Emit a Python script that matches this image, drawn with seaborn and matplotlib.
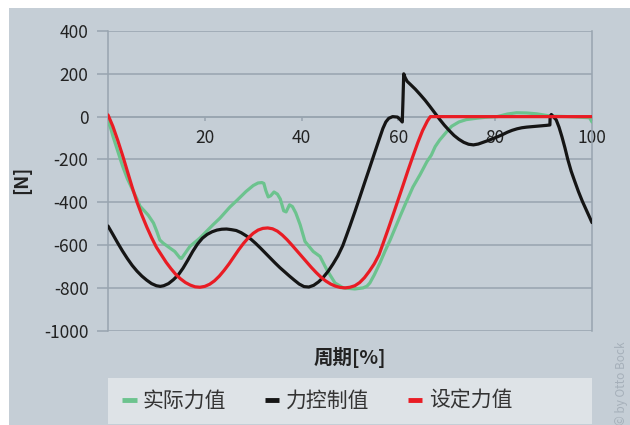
import matplotlib
matplotlib.use("Agg")
import matplotlib.pyplot as plt
from matplotlib.patches import Rectangle
import seaborn as sns
import pandas as pd

# Cycle position [%] and force [N] for each series
actual_x = [0, 0.5, 1, 2, 3, 4, 5, 6, 6.6, 7.5, 8.3, 9.4, 10.1, 10.7, 11.4, 12.8, 13.8,
            14.9, 15.2, 16.9, 19, 21.7, 23.1, 25.2, 26.7, 28.5, 30, 31, 31.8, 32.2,
            32.6, 33.1, 33.6, 34.3, 35, 35.6, 36.3, 36.8, 37.5, 38.1, 38.8, 39.7, 40.7,
            42.4, 43.8, 45.2, 46.9, 48.6, 51, 52.7, 53.5, 54.1, 55, 56.2, 57.2, 58.3,
            60.3, 61.5, 63, 64.5, 65.9, 66.8, 67.6, 68.5, 70, 71, 72.5, 74, 76, 78,
            80.4, 82.5, 84.4, 86.5, 88.6, 91.3, 95, 99.5, 100]
actual_y = [-23, -50, -90, -160, -230, -290, -338, -385, -418, -440, -460, -497, -537,
            -576, -591, -614, -630, -661, -662, -607, -567, -505, -475, -422, -390, -350,
            -322, -310, -308, -312, -345, -375, -370, -352, -362, -385, -440, -445, -412,
            -420, -450, -505, -583, -630, -653, -715, -777, -800, -805, -800, -792, -777,
            -740, -683, -630, -576, -468, -405, -329, -270, -210, -180, -140, -110, -70,
            -45, -25, -14, -8, -3, 0, 12, 18, 17, 13, 3, 0, -5, -25]

control_x = [0, 1, 2, 3, 4, 5, 6, 7, 8, 9, 10, 10.8, 11.5, 12.5, 13.5, 14.5, 15.5, 16.5,
             17.5, 18.5, 19.5, 20.5, 21.5, 22.5, 23.5, 24.5, 25.5, 26.5, 27.5, 28.5,
             29.5, 30.5, 31.5, 32.5, 33.5, 34.5, 35.5, 36.5, 37.5, 38.5, 39.5, 40.5,
             41.5, 42.5, 43.5, 44.5, 45.5, 46.5, 47.5, 48.5, 49.2, 50, 51, 52, 53, 54,
             55, 56, 56.8, 57.4, 58, 58.8, 59.8, 60.3, 60.8, 60.95, 61.1, 61.4, 61.8,
             62.5, 63.5, 64.5, 65.5, 66.5, 67.5, 68.5, 69.5, 70.5, 71.5, 72.5, 73.5,
             74.5, 75.5, 76.5, 77.5, 78.5, 79.5, 80.5, 81.5, 82.5, 83.5, 84.5, 85.5,
             86.5, 87.5, 88.5, 89.5, 90.5, 91.3, 91.35, 91.6, 92.0, 92.6, 93.2, 93.8,
             94.4, 95, 95.7, 96.4, 97.2, 98, 99, 100]
control_y = [-511, -550, -590, -628, -663, -695, -722, -745, -764, -780, -790, -793,
             -790, -780, -762, -740, -708, -670, -630, -595, -568, -550, -538, -530,
             -526, -525, -528, -532, -542, -556, -572, -592, -614, -637, -660, -683,
             -705, -725, -745, -764, -782, -794, -796, -788, -772, -750, -722, -688,
             -650, -603, -560, -510, -445, -378, -310, -243, -175, -108, -55, -25, -8,
             0, -2, -12, -25, 80, 200, 182, 165, 150, 128, 103, 77, 48, 18, -12, -40,
             -65, -88, -106, -120, -129, -132, -128, -120, -112, -103, -94, -84, -73,
             -64, -57, -52, -49, -47, -45, -43, -41, -39, 0, 10, 0, -15, -50, -95, -145,
             -200, -255, -300, -350, -395, -445, -495]

target_x = [0, 1, 2, 3, 4, 5, 6, 7, 8, 9, 10, 11, 12, 13, 14, 15, 16, 17, 18, 19, 20,
            21, 22, 23, 24, 25, 26, 27, 28, 29, 30, 31, 32, 33, 34, 35, 36, 37, 38, 39,
            40, 41, 42, 43, 44, 45, 46, 47, 48, 49, 50, 51, 52, 53, 54, 55, 56, 57, 58,
            59, 60, 61, 62, 63, 64, 65, 66, 66.6, 70, 80, 90, 100]
target_y = [8, -45, -110, -180, -255, -330, -400, -460, -515, -565, -610, -645, -680,
            -710, -737, -758, -775, -787, -795, -797, -793, -783, -767, -745, -718, -688,
            -655, -622, -592, -566, -545, -530, -522, -520, -524, -535, -553, -575, -600,
            -626, -652, -678, -704, -728, -750, -768, -782, -792, -798, -800, -797, -790,
            -775, -752, -722, -688, -645, -582, -518, -452, -385, -318, -250, -185, -122,
            -65, -20, 0, 0, 0, 0, 0]

series_names = ["实际力值", "力控制值", "设定力值"]
series_colors = ["#6cc38e", "#151515", "#e91c24"]

y_ticks = [400, 200, 0, -200, -400, -600, -800, -1000]
x_ticks = [20, 40, 60, 80, 100]

BG = "#c5ced6"
GRID = "#98a4af"

sns.set_theme(style="white")
plt.rcParams["font.family"] = ["Noto Sans CJK SC", "DejaVu Sans"]

fig = plt.figure(figsize=(6.3, 4.25), dpi=100, facecolor="white")
fig.patches.append(Rectangle((9 / 630, 0), 1, 1 - 8 / 425, transform=fig.transFigure,
                             facecolor=BG, edgecolor="none", zorder=-10))
# legend panel
fig.patches.append(Rectangle((108 / 630, 1 / 425), 484 / 630, 46 / 425,
                             transform=fig.transFigure, facecolor="#dee3e7",
                             edgecolor="none", zorder=-9))

ax = fig.add_axes([108 / 630, 1 - 330.7 / 425, 484 / 630, 299.7 / 425])
ax.set_facecolor("none")

frames = [
    pd.DataFrame({"x": actual_x, "y": actual_y, "s": series_names[0]}),
    pd.DataFrame({"x": control_x, "y": control_y, "s": series_names[1]}),
    pd.DataFrame({"x": target_x, "y": target_y, "s": series_names[2]}),
]
for i, df in enumerate(frames):
    sns.lineplot(data=df, x="x", y="y", ax=ax, color=series_colors[i], lw=2.3,
                 sort=False, estimator=None, label=series_names[i], zorder=3 + i,
                 solid_joinstyle="round", solid_capstyle="round")

ax.set_xlim(0, 100)
ax.set_ylim(-1000, 400)
ax.set_yticks(y_ticks)
ax.set_yticklabels([str(v) for v in y_ticks])
ax.set_xticks(x_ticks)
ax.set_xticklabels([str(v) for v in x_ticks])
ax.grid(axis="y", color=GRID, lw=1.1)
ax.grid(axis="x", visible=False)
ax.set_axisbelow(True)

ax.spines["top"].set_visible(False)
ax.spines["bottom"].set_position(("data", 0))
for side in ["left", "right", "bottom"]:
    ax.spines[side].set_color(GRID)
    ax.spines[side].set_linewidth(1.1)

ax.tick_params(axis="y", length=8, width=1.1, color=GRID, pad=6,
               labelsize=12.5, labelcolor="#222222", left=True)
ax.tick_params(axis="x", length=3, width=1.1, color=GRID, pad=6,
               labelsize=12.5, labelcolor="#222222", bottom=True, direction="out")

ax.set_xlabel("")
ax.set_ylabel("")
fig.text(350 / 630, 1 - 357 / 425, "周期[%]", ha="center", va="center",
         fontsize=14, fontweight="bold", color="#222222")
fig.text(22 / 630, 1 - 180 / 425, "[N]", ha="center", va="center", rotation=90,
         fontsize=13.5, fontweight="bold", color="#222222")
fig.text(621 / 630, 1 - 383 / 425, "© by Otto Bock", ha="center", va="center",
         rotation=90, fontsize=8.5, color="#a6b0ba")

handles, labels = ax.get_legend_handles_labels()
ax.legend_.remove()
leg = fig.legend(handles, labels, loc="center left",
                 bbox_to_anchor=(122 / 630, 1 - 401 / 425), ncol=3, frameon=False,
                 fontsize=15, handlelength=0.7, handletextpad=0.3,
                 columnspacing=1.85, borderpad=0, borderaxespad=0)
for t in leg.get_texts():
    t.set_color("#333333")
for h in leg.get_lines():
    h.set_linewidth(3.5)
    h.set_solid_capstyle("butt")

fig.savefig("out.png", dpi=100, facecolor="white")
